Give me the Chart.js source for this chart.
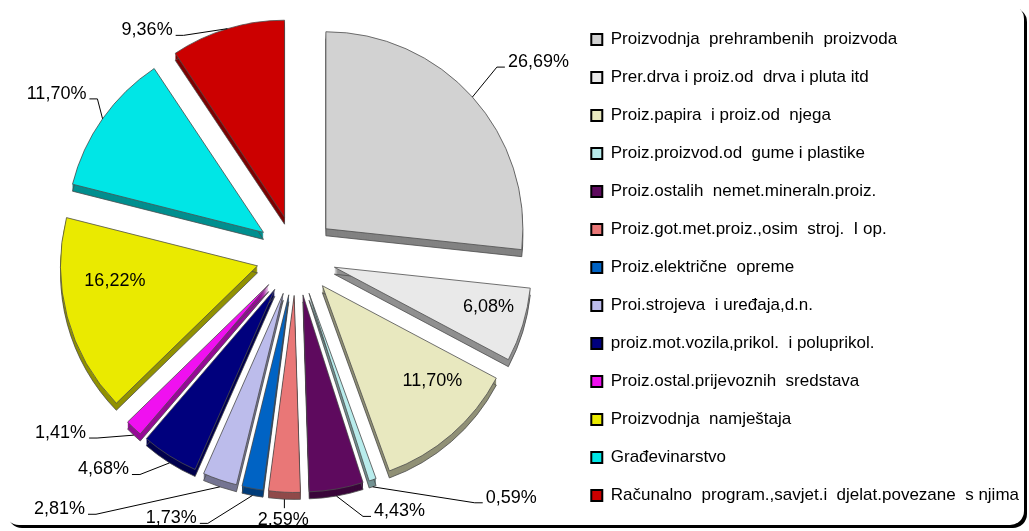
<!DOCTYPE html>
<html>
<head>
<meta charset="utf-8">
<script src="https://cdn.jsdelivr.net/npm/chart.js@4"></script>
<style>
    html, body { margin: 0; padding: 0; background: #fff; }
    #wrap { position: relative; width: 1029px; height: 531px; }
    #frame { position: absolute; left: 5px; top: 5px; width: 1019px; height: 520px; border-radius: 14px; box-shadow: 3px 3px 0 #000; background: #fff; }
    #chart { position: absolute; left: 0; top: 0; }
</style>
</head>
<body>
<div id="wrap">
    <div id="frame"></div>
    <canvas id="chart" width="1029" height="531"></canvas>
</div>
<script>
// ===== Data =====
const categories = [
    "Proizvodnja  prehrambenih  proizvoda",
    "Prer.drva i proiz.od  drva i pluta itd",
    "Proiz.papira  i proiz.od  njega",
    "Proiz.proizvod.od  gume i plastike",
    "Proiz.ostalih  nemet.mineraln.proiz.",
    "Proiz.got.met.proiz.,osim  stroj.  I op.",
    "Proiz.električne  opreme",
    "Proi.strojeva  i uređaja,d.n.",
    "proiz.mot.vozila,prikol.  i poluprikol.",
    "Proiz.ostal.prijevoznih  sredstava",
    "Proizvodnja  namještaja",
    "Građevinarstvo",
    "Računalno  program.,savjet.i  djelat.povezane  s njima"
];
const shares = [26.69, 6.08, 11.70, 0.59, 4.43, 2.59, 1.73, 2.81, 4.68, 1.41, 16.22, 11.70, 9.36];
const sliceColors = [
    "#d2d2d2", "#e9e9e9", "#e8e8bf", "#b8ecec", "#5e0a5e", "#e97777", "#0063c4",
    "#bcbceb", "#00007d", "#f010f0", "#eaea00", "#00e6e6", "#cc0000"
];

// ===== Label placement: [deg clockwise from top, distance from pie centre, inside?] =====
const labelSpots = [
    [51.4, 310], [104.9, 199, true], [132.6, 185, true], [138.4, 324], [158, 276],
    [182.8, 265], [205.4, 291], [223, 347], [222, 288], [233, 295],
    [262.1, 183, true], [304, 289], [326.5, 270]
];

const explode = 40;   // px each slice is pulled out
const depth = 7;      // 3d thickness
const pieLift = 12;   // pie sits a bit higher than the legend centre
const fontFamily = '"Liberation Sans", Arial, sans-serif';

function darken(hex, f) {
    const n = parseInt(hex.slice(1), 16);
    const r = (n >> 16) & 255, g = (n >> 8) & 255, b = n & 255;
    return `rgb(${Math.round(r * f)},${Math.round(g * f)},${Math.round(b * f)})`;
}

// ===== Exploded 3d pie =====
const explodePlugin = {
    id: "explode3d",
    afterDatasetUpdate(chart, args) {
        args.meta.data.forEach(arc => {
            const mid = (arc.startAngle + arc.endAngle) / 2;
            arc.x += Math.cos(mid) * explode;
            arc.y += Math.sin(mid) * explode - pieLift;
        });
    },
    beforeDatasetsDraw(chart) {
        const ctx = chart.ctx;
        chart.getDatasetMeta(0).data.forEach((arc, i) => {
            const path = (dy) => {
                ctx.beginPath();
                ctx.moveTo(arc.x, arc.y + dy);
                ctx.arc(arc.x, arc.y + dy, arc.outerRadius, arc.startAngle, arc.endAngle);
                ctx.closePath();
            };
            ctx.save();
            ctx.fillStyle = darken(sliceColors[i], 0.62);
            for (let d = depth; d >= 1; d--) {
                path(d);
                ctx.fill();
            }
            ctx.strokeStyle = "#4d4d4d";
            ctx.lineWidth = 0.8;
            path(depth);
            ctx.stroke();
            ctx.restore();
        });
    }
};

// ===== Percent labels with leader lines =====
const labelPlugin = {
    id: "pctLabels",
    afterDatasetsDraw(chart) {
        const ctx = chart.ctx;
        const area = chart.chartArea;
        const cx = (area.left + area.right) / 2;
        const cy = (area.top + area.bottom) / 2 - pieLift;
        ctx.save();
        ctx.font = `18px ${fontFamily}`;
        ctx.fillStyle = "#000";
        ctx.strokeStyle = "#000";
        ctx.lineWidth = 1;
        ctx.textAlign = "center";
        ctx.textBaseline = "middle";
        chart.getDatasetMeta(0).data.forEach((arc, i) => {
            const text = shares[i].toFixed(2).replace(".", ",") + "%";
            const mid = (arc.startAngle + arc.endAngle) / 2;
            const spot = labelSpots[i];
            const a = (spot[0] - 90) * Math.PI / 180;
            const lx = cx + Math.cos(a) * spot[1];
            const ly = cy + Math.sin(a) * spot[1];
            if (spot[2]) {
                ctx.fillText(text, lx, ly);
                return;
            }
            const ax = arc.x + Math.cos(mid) * arc.outerRadius;
            const ay = arc.y + Math.sin(mid) * arc.outerRadius + (Math.sin(mid) > 0 ? depth : 0);
            const w = ctx.measureText(text).width;
            ctx.beginPath();
            if (Math.abs(lx - ax) < w / 2) {
                ctx.moveTo(ax, ay);
                ctx.lineTo(ax, ly - 12);
            } else if (lx < ax) {
                const ex = lx + w / 2 + 3;
                ctx.moveTo(ex, ly + 5);
                ctx.lineTo(ex + 8, ly + 5);
                ctx.lineTo(ax, ay);
            } else {
                const ex = lx - w / 2 - 3;
                ctx.moveTo(ex, ly + 5);
                ctx.lineTo(ex - 8, ly + 5);
                ctx.lineTo(ax, ay);
            }
            ctx.stroke();
            ctx.fillText(text, lx, ly);
        });
        ctx.restore();
    }
};

const ctx = document.getElementById("chart").getContext("2d");
new Chart(ctx, {
    type: "pie",
    data: {
        labels: categories,
        datasets: [{
            data: shares,
            backgroundColor: sliceColors,
            borderColor: "#4d4d4d",
            borderWidth: 0.8
        }]
    },
    options: {
        responsive: false,
        animation: false,
        events: [],
        devicePixelRatio: 1,
        radius: 197,
        layout: { padding: { left: 22, right: 0, top: 4, bottom: 0 } },
        plugins: {
            tooltip: { enabled: false },
            legend: {
                position: "right",
                labels: {
                    color: "#000",
                    font: { family: fontFamily, size: 17 },
                    boxWidth: 11,
                    boxHeight: 11,
                    padding: 21,
                    generateLabels(chart) {
                        const items = Chart.overrides.pie.plugins.legend.labels.generateLabels(chart);
                        items.forEach(it => { it.strokeStyle = "#000"; it.lineWidth = 2; });
                        return items;
                    }
                }
            }
        }
    },
    plugins: [explodePlugin, labelPlugin]
});
</script>
</body>
</html>
